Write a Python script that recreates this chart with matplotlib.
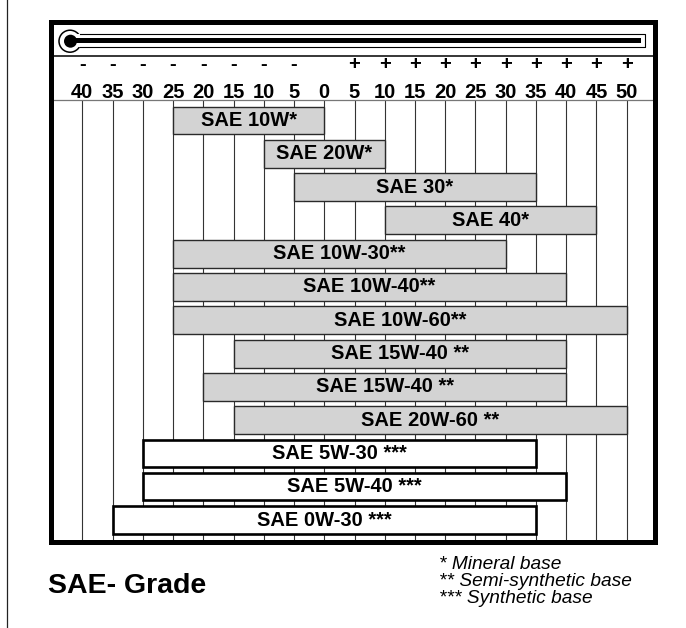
import matplotlib.pyplot as plt
from matplotlib.patches import Circle, Rectangle

# SAE grades and their usable ambient temperature range (deg C)
grades = ["SAE 10W*", "SAE 20W*", "SAE 30*", "SAE 40*",
          "SAE 10W-30**", "SAE 10W-40**", "SAE 10W-60**",
          "SAE 15W-40 **", "SAE 15W-40 **", "SAE 20W-60 **",
          "SAE 5W-30 ***", "SAE 5W-40 ***", "SAE 0W-30 ***"]
temp_low = [-25, -10, -5, 10, -25, -25, -25, -15, -20, -15, -30, -30, -35]
temp_high = [0, 10, 35, 45, 30, 40, 50, 40, 40, 50, 35, 40, 35]
base_type = ["mineral"] * 4 + ["semi"] * 6 + ["synthetic"] * 3

temps = [-40, -35, -30, -25, -20, -15, -10, -5, 0,
         5, 10, 15, 20, 25, 30, 35, 40, 45, 50]

legend_lines = ["* Mineral base", "** Semi-synthetic base", "*** Synthetic base"]
title = "SAE- Grade"

W, H = 686, 628
BOLD = ["Liberation Sans", "DejaVu Sans"]

fig = plt.figure(figsize=(W / 100, H / 100), dpi=100)
fig.patch.set_facecolor("white")

# main chart box (pixel rectangle of the border centre line)
bx0, bx1, by0, by1 = 50.8, 654.6, 21.8, 542.3
ax = fig.add_axes([bx0 / W, 1 - by1 / H, (bx1 - bx0) / W, (by1 - by0) / H])

# x: temperature, y: row index (inverted)
px_per_deg = 6.048
x_m40 = 82.3
ax.set_xlim(-40 + (bx0 - x_m40) / px_per_deg, 50 + (bx1 - 626.7) / px_per_deg)
row_pitch, row0 = 33.3, 120.5


def row(py):
    return (py - row0) / row_pitch


ax.set_ylim(row(by1), row(by0))
ax.set_xticks([])
ax.set_yticks([])
for sp in ax.spines.values():
    sp.set_linewidth(3.6)
    sp.set_color("black")
    sp.set_zorder(6)

grid_top = row(100)
ax.vlines(temps, grid_top, row(by1), color="#333333", lw=0.8, zorder=1)
ax.axhline(grid_top, color="#777777", lw=0.9, zorder=1)
ax.axhline(row(56), color="black", lw=1.1, zorder=1)

# header: signs and numbers
for t in temps:
    if t != 0:
        ax.text(t, row(64.5), "-" if t < 0 else "+", ha="center", va="center",
                fontsize=14.5, fontweight="bold", family=BOLD, clip_on=False)
    ax.text(t, row(97.5), str(abs(t)), ha="center", va="baseline",
            fontsize=14.5, fontweight="bold", family=BOLD)

# bars
for i, (name, lo, hi, kind) in enumerate(zip(grades, temp_low, temp_high, base_type)):
    if kind == "synthetic":
        ax.barh(i, hi - lo, left=lo, height=0.82, color="white",
                edgecolor="black", linewidth=1.9, zorder=3)
    else:
        ax.barh(i, hi - lo, left=lo, height=0.84, color="#d3d3d3",
                edgecolor="#2a2a2a", linewidth=1.0, zorder=3)
    ax.text((lo + hi) / 2, i, name, ha="center", va="center",
            fontsize=14.5, fontweight="bold", family=BOLD, zorder=4)

# overlay in pixel coordinates for the thermometer and page text
ov = fig.add_axes([0, 0, 1, 1], zorder=5)
ov.set_xlim(0, W)
ov.set_ylim(H, 0)
ov.axis("off")

ov.add_patch(Circle((70, 41.2), 11, facecolor="white", edgecolor="black", lw=1.1))
ov.add_patch(Rectangle((75, 33.6), 645 - 75, 13.2, facecolor="white", edgecolor="none"))
ov.plot([79.5, 645, 645, 79.5], [33.6, 33.6, 46.8, 46.8], color="black", lw=0.8)
ov.add_patch(Circle((70.5, 41.2), 6.5, facecolor="black", edgecolor="none"))
ov.add_patch(Rectangle((70, 38.0), 640.7 - 70, 5.4, facecolor="black", edgecolor="none"))

# page margin line on the left
ov.plot([6.7, 6.7], [0, H], color="#222222", lw=0.9)

ov.text(48.3, 593.3, title, ha="left", va="baseline", fontsize=20.5,
        fontweight="bold", family=BOLD)
for k, line in enumerate(legend_lines):
    ov.text(439, 569.3 + 16.8 * k, line, ha="left", va="baseline", fontsize=13.8,
            style="italic", family=BOLD)

fig.savefig("out.png", dpi=100)
